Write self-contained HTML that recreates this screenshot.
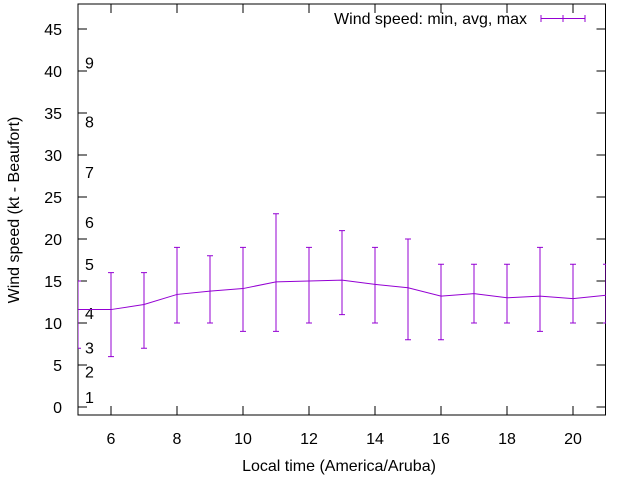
<!DOCTYPE html>
<html><head><meta charset="utf-8"><style>body{margin:0;background:#fff}svg{display:block;font-family:"Liberation Sans",sans-serif;font-size:16px}</style></head>
<body>
<svg width="640" height="480" id="c">
<defs><clipPath id="clip"><rect x="78" y="4" width="528" height="411"/></clipPath></defs>
<rect x="78" y="4" width="527.5" height="411" fill="none" stroke="#000" stroke-width="1"/>
<g id="axes"></g>
<g id="beau"></g>
<g id="series" clip-path="url(#clip)"></g>
<text transform="translate(19,210) rotate(-90)" text-anchor="middle">Wind speed (kt - Beaufort)</text>
<text x="339" y="471" text-anchor="middle">Local time (America/Aruba)</text>
<g>
<text x="527" y="24" text-anchor="end">Wind speed: min, avg, max</text>
<path d="M541 18.5H585M541 15V22M563 15V22M585 15V22" stroke="#9400d3" fill="none"/>
</g>
</svg>
<script>
const hours=[5,6,7,8,9,10,11,12,13,14,15,16,17,18,19,20,21];
const avgKt=[11.6,11.6,12.2,13.4,13.8,14.1,14.9,15.0,15.1,14.6,14.2,13.2,13.5,13.0,13.2,12.9,13.3];
const minKt=[7,6,7,10,10,9,9,10,11,10,8,8,10,10,9,10,10];
const maxKt=[15,16,16,19,18,19,23,19,21,19,20,17,17,17,19,17,17];
const xTicks=[6,8,10,12,14,16,18,20];
const yTicks=[0,5,10,15,20,25,30,35,40,45];
const beaufortLabels=["1","2","3","4","5","6","7","8","9"];
const beaufortKt=[1.2,4.2,7.1,11.2,17,22,28,34,41];
const X=h=>78+(h-5)*33;
const Y=v=>407-v*8.4;
const NS="http://www.w3.org/2000/svg";
function mk(tag,attrs,parent){const e=document.createElementNS(NS,tag);for(const k in attrs)e.setAttribute(k,attrs[k]);parent.appendChild(e);return e;}
const ax=document.getElementById('axes');
yTicks.forEach(v=>{
 const t=mk('path',{d:`M78 ${Y(v)}h9M605.5 ${Y(v)}h-9`,stroke:'#000'},ax);
 
 
 const l=mk('text',{x:62,y:Y(v)+6,'text-anchor':'end'},ax);l.textContent=v;
 
 
});
xTicks.forEach(h=>{
 const t=mk('path',{d:`M${X(h)} 415v-9M${X(h)} 4v9`,stroke:'#000'},ax);
 
 
 const l=mk('text',{x:X(h),y:444,'text-anchor':'middle'},ax);l.textContent=h;
 
 
});
const bg=document.getElementById('beau');
beaufortLabels.forEach((s,i)=>{
 const l=mk('text',{x:85,y:Y(beaufortKt[i])+6},bg);l.textContent=s;
 
 
});
const sg=document.getElementById('series');
const line=mk('polyline',{points:hours.map((h,i)=>X(h)+','+Y(avgKt[i])).join(' '),fill:'none',stroke:'#9400d3'},sg);


hours.forEach((h,i)=>{
 const x=X(h);
 const e=mk('path',{d:`M${x} ${Y(minKt[i])}V${Y(maxKt[i])}M${x-3} ${Y(minKt[i])}h6M${x-3} ${Y(maxKt[i])}h6`,stroke:'#9400d3',fill:'none'},sg);
 
 
});
</script>
</body></html>
